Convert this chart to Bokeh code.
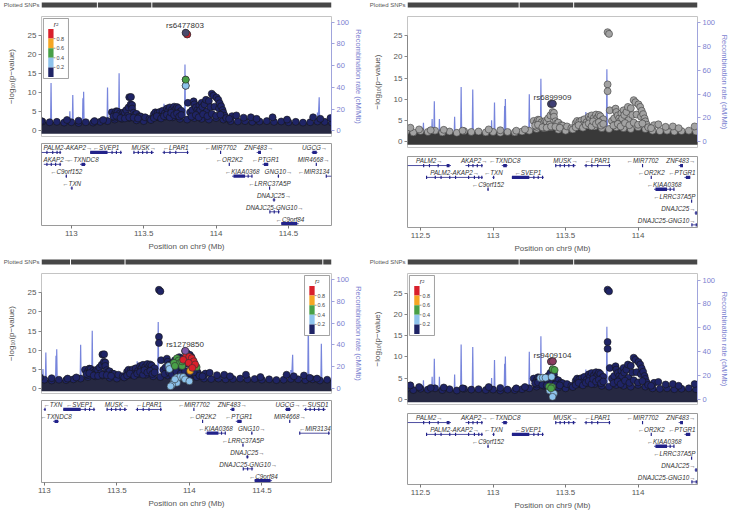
from bokeh.plotting import figure
from bokeh.models import Range1d, LinearAxis, FixedTicker
from bokeh.layouts import column, row
from bokeh.embed import file_html
from bokeh.resources import INLINE
from bokeh.core.properties import value

FONT = "Liberation Sans"

# ---------------- DATA ----------------
# shared association results (position Mb, -log10 p) above the dense band
snp_pos = [112.43, 112.49, 112.57, 112.66, 112.79, 112.97, 113.05, 113.16, 113.22,
           113.28, 113.30, 113.30, 113.31, 113.32, 113.33, 113.335, 113.35, 113.36, 113.36,
           113.37, 113.38, 113.39, 113.395, 113.400, 113.412, 113.41, 113.42, 113.42, 113.43,
           113.44, 113.45, 113.47, 113.48, 113.51, 113.54, 113.55,
           113.57, 113.58, 113.595, 113.60, 113.61, 113.62, 113.63, 113.645, 113.66, 113.67,
           113.68, 113.695, 113.70, 113.71, 113.72, 113.73, 113.74, 113.75, 113.76,
           113.79, 113.80, 113.79, 113.79,
           113.805, 113.82, 113.835, 113.845, 113.85, 113.86, 113.87, 113.875,
           113.885, 113.89, 113.90, 113.905, 113.92, 113.93, 113.935, 113.95, 113.96, 113.97,
           113.982, 113.99, 114.003, 114.015, 114.02, 114.025, 114.035, 114.045, 114.05, 114.06,
           114.11, 114.14, 114.19, 114.24, 114.28, 114.39, 114.49, 114.67, 114.72, 114.79,
           114.83, 114.88,
           113.29, 113.31, 113.34, 113.37, 113.40, 113.43, 113.46,
           113.57, 113.59, 113.62, 113.64, 113.66, 113.68, 113.69, 113.71, 113.73, 113.745, 113.76,
           113.83, 113.86, 113.88, 113.91, 113.94, 113.97, 114.00, 114.03, 114.07, 114.09]
snp_logp = [3.3, 2.9, 2.7, 2.8, 2.6, 2.9, 2.7, 2.6, 2.9,
            4.9, 3.5, 4.5, 5.2, 5.1, 3.9, 4.6, 4.4, 4.9, 3.7,
            4.7, 5.5, 4.0, 6.2, 8.9, 8.95, 7.0, 6.8, 5.9, 4.8,
            4.3, 4.5, 3.9, 3.8, 3.6, 3.2, 2.9,
            4.4, 4.9, 4.7, 3.8, 5.0, 4.1, 5.3, 4.6, 5.9, 5.4,
            6.2, 5.6, 4.5, 6.4, 5.7, 6.3, 6.0, 5.0, 5.3,
            25.8, 25.4, 13.5, 11.9,
            7.4, 4.9, 5.5, 7.8, 7.0, 6.2, 5.5, 4.8,
            6.7, 5.5, 7.4, 6.3, 7.0, 8.2, 5.1, 7.9, 6.3, 9.8,
            9.3, 6.4, 8.8, 8.2, 5.9, 7.3, 6.5, 5.5, 4.8, 4.0,
            3.9, 4.1, 3.5, 3.6, 3.2, 3.6, 3.0, 3.6, 3.2, 3.4,
            2.8, 2.6,
            3.8, 4.0, 3.4, 3.3, 3.6, 3.5, 3.3,
            3.4, 3.9, 3.3, 3.9, 4.3, 3.6, 4.8, 4.2, 4.6, 3.8, 4.2,
            3.8, 4.2, 3.6, 4.4, 3.9, 4.5, 4.0, 4.3, 3.4, 3.2]

# upper edge of the dense band of weak SNPs
band_pos = [112.40, 112.45, 112.50, 112.55, 112.60, 112.65, 112.70, 112.75, 112.80, 112.85,
            112.90, 112.95, 113.00, 113.05, 113.10, 113.15, 113.20, 113.25, 113.30, 113.35,
            113.40, 113.45, 113.50, 113.55, 113.60, 113.65, 113.70, 113.75, 113.80, 113.85,
            113.90, 113.95, 114.00, 114.05, 114.10, 114.15, 114.20, 114.25, 114.30, 114.35,
            114.40, 114.45, 114.50, 114.55, 114.60, 114.65, 114.70, 114.75, 114.80, 114.85,
            114.90, 114.95, 115.00]
band_top = [2.4, 2.2, 2.5, 2.3, 2.6, 2.2, 2.4, 2.1, 2.5, 2.3,
            2.4, 2.2, 2.3, 2.1, 2.3, 2.2, 2.4, 2.6, 3.0, 3.2,
            3.4, 2.8, 2.6, 3.0, 3.6, 3.8, 3.6, 3.2, 3.0, 3.4,
            3.2, 3.0, 3.4, 3.0, 2.6, 2.5, 2.6, 2.4, 2.5, 2.6,
            2.4, 2.5, 2.3, 2.4, 2.2, 2.3, 2.5, 2.4, 2.2, 2.4,
            2.1, 2.3, 2.2]

# recombination rate (cM/Mb)
recomb_pos = [112.400, 112.410, 112.414, 112.440, 112.470, 112.515, 112.520, 112.524, 112.575, 112.580,
              112.584, 112.591, 112.595, 112.599, 112.626, 112.630, 112.634, 112.680, 112.731, 112.735,
              112.739, 112.776, 112.780, 112.784, 112.820, 112.856, 112.860, 112.864, 112.920, 112.986,
              112.990, 112.994, 113.006, 113.010, 113.014, 113.050, 113.076, 113.080, 113.082, 113.085,
              113.089, 113.150, 113.200, 113.246, 113.250, 113.254, 113.276, 113.280, 113.284, 113.326,
              113.330, 113.334, 113.400, 113.460, 113.520, 113.580, 113.636, 113.640, 113.644, 113.700,
              113.781, 113.785, 113.789, 113.850, 113.950, 114.036, 114.040, 114.044, 114.100, 114.200,
              114.300, 114.400, 114.500, 114.600, 114.696, 114.700, 114.703, 114.712, 114.716, 114.780,
              114.816, 114.820, 114.824, 114.870, 114.906, 114.910, 114.914, 114.960, 115.000]
recomb_rate = [1.2, 13.0, 0.8, 2.0, 0.6, 0.9, 16.0, 1.0, 1.2, 19.0,
               1.0, 1.5, 34.0, 1.2, 1.0, 19.0, 0.9, 2.0, 1.0, 21.0,
               1.1, 1.0, 46.0, 1.2, 2.5, 1.0, 44.0, 1.0, 2.0, 1.0,
               18.0, 1.0, 1.2, 33.0, 1.0, 2.0, 1.0, 30.0, 5.0, 36.0,
               1.0, 2.5, 1.0, 1.2, 40.0, 1.0, 1.0, 17.0, 1.0, 1.2,
               53.0, 1.0, 2.0, 1.0, 2.0, 1.5, 1.0, 25.0, 1.0, 3.0,
               1.0, 61.0, 1.0, 2.0, 3.0, 1.0, 27.0, 1.0, 2.0, 1.0,
               2.5, 1.0, 2.0, 1.5, 1.0, 17.0, 2.0, 31.0, 1.0, 1.5,
               1.0, 63.0, 1.0, 2.0, 1.0, 41.0, 1.0, 1.5, 1.0]

snp_gaps = [113.18, 113.556, 114.92]

# genes
gene_name = ["PALM2", "AKAP2", "PALM2-AKAP2", "C9orf152", "TXN", "TXNDC8", "SVEP1", "MUSK",
             "LPAR1", "MIR7702", "OR2K2", "KIAA0368", "ZNF483", "PTGR1", "LRRC37A5P", "DNAJC25",
             "GNG10", "DNAJC25-GNG10", "C9orf84", "UGCG", "MIR4668", "MIR3134", "SUSD1"]
gene_start = [112.30, 112.81, 112.54, 112.96, 112.995, 113.06, 113.13, 113.43,
              113.63, 114.030, 114.090, 114.11, 114.28, 114.32, 114.365, 114.39,
              114.425, 114.37, 114.45, 114.66, 114.690, 114.76, 114.79]
gene_end = [112.71, 112.93, 112.93, 112.97, 113.010, 113.10, 113.35, 113.57,
            113.81, 114.032, 114.092, 114.25, 114.31, 114.36, 114.372, 114.41,
            114.435, 114.44, 114.57, 114.70, 114.695, 114.97, 114.94]
gene_strand = ["+", "+", "+", "-", "-", "-", "-", "+",
               "-", "-", "-", "-", "+", "-", "-", "+",
               "+", "+", "-", "+", "+", "-", "-"]
gene_exons = [
    [(112.52, 112.523), (112.56, 112.563), (112.62, 112.623), (112.68, 112.70)],
    [(112.83, 112.833), (112.86, 112.863), (112.89, 112.893), (112.92, 112.925)],
    [(112.54, 112.543), (112.60, 112.603), (112.64, 112.643), (112.70, 112.703), (112.74, 112.743),
     (112.83, 112.833), (112.87, 112.873), (112.90, 112.903), (112.92, 112.925)],
    [(112.964, 112.967)],
    [(113.002, 113.006)],
    [(113.07, 113.095)],
    [(113.13, 113.25), (113.28, 113.283), (113.31, 113.313), (113.34, 113.343)],
    [(113.43, 113.435), (113.46, 113.465), (113.49, 113.495), (113.52, 113.525), (113.55, 113.56)],
    [(113.64, 113.643), (113.68, 113.683), (113.72, 113.723), (113.80, 113.805)],
    [(114.030, 114.032)],
    [(114.090, 114.092)],
    [(114.12, 114.20), (114.22, 114.223), (114.245, 114.25)],
    [(114.29, 114.31)],
    [(114.33, 114.36)],
    [(114.368, 114.371)],
    [(114.395, 114.405)],
    [(114.428, 114.433)],
    [(114.37, 114.373), (114.40, 114.403), (114.43, 114.433)],
    [(114.45, 114.56)],
    [(114.665, 114.695)],
    [(114.690, 114.694)],
    [(114.76, 114.762), (114.96, 114.962)],
    [(114.80, 114.805), (114.83, 114.835), (114.86, 114.865), (114.89, 114.895), (114.92, 114.93)],
]

# gene track rows of each panel
rows_p1 = {"PALM2-AKAP2": 0, "SVEP1": 0, "MUSK": 0, "LPAR1": 0, "MIR7702": 0, "ZNF483": 0, "UGCG": 0,
           "AKAP2": 1, "TXNDC8": 1, "OR2K2": 1, "PTGR1": 1, "MIR4668": 1,
           "C9orf152": 2, "KIAA0368": 2, "GNG10": 2, "MIR3134": 2,
           "TXN": 3, "LRRC37A5P": 3, "DNAJC25": 4, "DNAJC25-GNG10": 5, "C9orf84": 6}
rows_p2 = {"PALM2": 0, "AKAP2": 0, "TXNDC8": 0, "MUSK": 0, "LPAR1": 0, "MIR7702": 0, "ZNF483": 0,
           "PALM2-AKAP2": 1, "TXN": 1, "SVEP1": 1, "OR2K2": 1, "PTGR1": 1,
           "C9orf152": 2, "KIAA0368": 2, "LRRC37A5P": 3, "DNAJC25": 4, "DNAJC25-GNG10": 5}
rows_p3 = {"TXN": 0, "SVEP1": 0, "MUSK": 0, "LPAR1": 0, "MIR7702": 0, "ZNF483": 0, "UGCG": 0, "SUSD1": 0,
           "TXNDC8": 1, "OR2K2": 1, "PTGR1": 1, "MIR4668": 1,
           "KIAA0368": 2, "GNG10": 2, "MIR3134": 2,
           "LRRC37A5P": 3, "DNAJC25": 4, "DNAJC25-GNG10": 5, "C9orf84": 6}

# LD-coloured SNPs per panel (position, -log10 p, r2)
p1_ld_pos = [113.80, 113.79, 113.79]
p1_ld_logp = [25.4, 13.5, 11.9]
p1_ld_r2 = [0.9, 0.5, 0.3]
p3_ld_pos = [113.979, 113.999, 114.016, 113.957, 114.03, 113.995, 114.04, 114.02,
             114.005, 114.035,
             113.914, 113.925, 113.893, 113.936, 113.90, 113.95, 114.05, 113.95,
             113.857, 113.862, 113.914, 113.936, 113.957, 113.893, 113.914, 113.88, 113.87,
             113.97, 114.0, 113.90]
p3_ld_logp = [8.6, 8.3, 7.9, 7.5, 7.1, 6.7, 6.3, 5.4,
              4.6, 5.9,
              7.9, 7.3, 6.7, 6.7, 5.9, 5.9, 5.6, 7.1,
              5.9, 5.1, 2.9, 3.0, 3.0, 1.9, 1.5, 1.0, 0.6,
              2.4, 1.9, 2.4]
p3_ld_r2 = [0.9, 0.9, 0.9, 0.9, 0.9, 0.9, 0.9, 0.9,
            0.7, 0.7,
            0.5, 0.5, 0.5, 0.5, 0.5, 0.5, 0.5, 0.5,
            0.3, 0.3, 0.3, 0.3, 0.3, 0.3, 0.3, 0.3, 0.3,
            0.3, 0.3, 0.3]
p4_ld_pos = [113.412, 113.425, 113.386, 113.408, 113.40,
             113.326, 113.343, 113.362, 113.404, 113.39, 113.42, 113.41]
p4_ld_logp = [7.1, 6.9, 3.05, 2.9, 2.6,
              5.05, 5.1, 5.1, 5.3, 2.1, 1.4, 0.6]
p4_ld_r2 = [0.5, 0.5, 0.5, 0.5, 0.5,
            0.3, 0.3, 0.3, 0.3, 0.3, 0.3, 0.3]

# index SNPs
lead_names = ["rs6477803", "rs6899909", "rs1279850", "rs9409104"]
lead_pos = [[113.79], [113.400, 113.412], [113.972], [113.400, 113.412]]
lead_logp = [[25.8], [8.9, 8.95], [9.85], [8.9, 8.95]]
lead_label_pos = [113.785, 113.41, 113.97, 113.41]
lead_label_logp = [27.8, 10.4, 11.6, 10.3]

ticks_a = [113, 113.5, 114, 114.5]
tick_labels_a = ["113", "113.5", "114", "114.5"]
ticks_b = [112.5, 113, 113.5, 114]
tick_labels_b = ["112.5", "113", "113.5", "114"]

ld_breaks = [0.8, 0.6, 0.4, 0.2]
ld_labels = ["0.8", "0.6", "0.4", "0.2"]

# ---------------- STYLE ----------------
LD_COLORS = ["#d9202b", "#f5a623", "#48a047", "#8ec3ec", "#1f2466"]
NAVY = "#1f2466"
W = 366
BL, BR = 36, 29
FW = W - BL - BR

KIND_A = dict(main_h=126, mbt=3, mbb=3, gene_h=118, gbt=4, gbb=32, gH=85, rsp=12.3)
KIND_B = dict(main_h=138, mbt=3, mbb=4, gene_h=106, gbt=5, gbb=30, gH=73, rsp=12.2)


def ld_color(r2):
    for b, c in zip(ld_breaks, LD_COLORS):
        if r2 >= b:
            return c
    return LD_COLORS[-1]


def style_fig(p):
    p.xgrid.grid_line_color = None
    p.ygrid.grid_line_color = None
    p.background_fill_color = "white"
    p.border_fill_color = "white"


def draw_legend(p, xr, yr, fh, side):
    sx = (xr[1] - xr[0]) / FW
    sy = (yr[1] - yr[0]) / fh
    bw, bh = 26, 60
    left = xr[0] + 2 * sx if side == "left" else xr[1] - (2 + bw) * sx
    top = yr[1] - 2 * sy
    p.quad(left=[left], right=[left + bw * sx], top=[top], bottom=[top - bh * sy],
           fill_color="white", line_color="#8a8a8a", line_width=0.8)
    p.text(x=[left + 13 * sx], y=[top - 5.5 * sy], text=["r²"], text_font=value(FONT),
           text_font_size=value("6.5px"), text_font_style="italic", text_color="#333",
           text_align="center", text_baseline="middle")
    bx0, bx1 = left + 5 * sx, left + 10.5 * sx
    t0, step = 10.5, 9.6
    lefts, rights, tops, bots = [], [], [], []
    for i, c in enumerate(LD_COLORS):
        lefts.append(bx0)
        rights.append(bx1)
        tops.append(top - (t0 + step * i) * sy)
        bots.append(top - (t0 + step * (i + 1)) * sy)
    p.quad(left=lefts, right=rights, top=tops, bottom=bots, fill_color=LD_COLORS, line_color=None)
    ys = [top - (t0 + step * (i + 1)) * sy for i in range(len(ld_labels))]
    p.segment(x0=[bx1] * len(ys), y0=ys, x1=[bx1 + 2 * sx] * len(ys), y1=ys,
              line_color="#555", line_width=0.6)
    p.text(x=[bx1 + 3 * sx] * len(ys), y=ys, text=ld_labels, text_font=value(FONT),
           text_font_size=value("5.5px"), text_color="#444", text_baseline="middle")


def draw_genes(p, xr, rows, rsp):
    sx = (xr[1] - xr[0]) / FW
    lx0, lx1, ly, ex_l, ex_r, ex_t, ex_b = [], [], [], [], [], [], []
    tx, ty, tt, ta = [], [], [], []
    for name, r in rows.items():
        i = gene_name.index(name)
        s, e = gene_start[i], gene_end[i]
        vs, ve = max(s, xr[0]), min(e, xr[1])
        if ve < vs:
            continue
        yl = -(9.3 + rsp * r)
        lx0.append(vs); lx1.append(ve); ly.append(yl)
        for a, b in gene_exons[i]:
            a2, b2 = max(a, xr[0]), min(b, xr[1])
            if b2 < a2:
                continue
            if b2 - a2 < 1.2 * sx:
                m = (a2 + b2) / 2
                a2, b2 = m - 0.6 * sx, m + 0.6 * sx
            ex_l.append(a2); ex_r.append(b2); ex_t.append(yl + 1.7); ex_b.append(yl - 1.7)
        txt = name + "→" if gene_strand[i] == "+" else "←" + name
        w = len(txt) * 3.7 * sx
        cx = (vs + ve) / 2
        if cx - w / 2 < xr[0] + 2 * sx:
            tx.append(xr[0] + 2 * sx); ta.append("left")
        elif cx + w / 2 > xr[1] - 2 * sx:
            tx.append(xr[1] - 2 * sx); ta.append("right")
        else:
            tx.append(cx); ta.append("center")
        ty.append(-(4.5 + rsp * r)); tt.append(txt)
    p.segment(x0=lx0, y0=ly, x1=lx1, y1=ly, line_color="#22228a", line_width=0.8)
    p.quad(left=ex_l, right=ex_r, top=ex_t, bottom=ex_b, fill_color="#22228a", line_color=None)
    p.text(x=tx, y=ty, text=tt, text_align=ta, text_font=value(FONT), text_font_size=value("6.3px"),
           text_font_style="italic", text_color="#333", text_baseline="middle")


def build_panel(cfg):
    K = cfg["kind"]
    xr = cfg["xr"]
    yr = cfg["yr"]
    x_range = Range1d(*xr)

    # plotted SNPs rug; its title is drawn as the single tick label of a bare left axis
    bar = figure(width=W, height=13, x_range=x_range, y_range=Range1d(0, 13),
                 min_border_left=BL, min_border_right=BR, min_border_top=0, min_border_bottom=0,
                 x_axis_location=None, y_axis_location="left", toolbar_location=None,
                 output_backend="svg", outline_line_color=None)
    style_fig(bar)
    ba = bar.yaxis[0]
    ba.ticker = FixedTicker(ticks=[8.5])
    ba.major_label_overrides = {8.5: "Plotted SNPs"}
    ba.major_label_text_font = FONT
    ba.major_label_text_font_size = "6px"
    ba.major_label_text_color = "#555"
    ba.major_label_standoff = 2
    ba.major_tick_out = 0
    ba.major_tick_in = 0
    ba.major_tick_line_color = None
    ba.minor_tick_line_color = None
    ba.axis_line_color = None
    bar.quad(left=[max(band_pos[0], xr[0])], right=[min(band_pos[-1], xr[1])], bottom=[6], top=[11],
             fill_color="#474747", line_color=None)
    gx = [g for g in snp_gaps if xr[0] < g < xr[1]]
    bar.segment(x0=gx, y0=[5.5] * len(gx), x1=gx, y1=[11.5] * len(gx), line_color="white", line_width=1)

    # association plot
    fh = K["main_h"] - K["mbt"] - K["mbb"]
    p = figure(width=W, height=K["main_h"], x_range=x_range, y_range=Range1d(*yr),
               min_border_left=BL, min_border_right=BR, min_border_top=K["mbt"],
               min_border_bottom=K["mbb"], x_axis_location=None, y_axis_location="left",
               toolbar_location=None, output_backend="svg", outline_line_color="#c4c4c4")
    style_fig(p)
    p.extra_y_ranges = {"rec": Range1d(*cfg["rr"])}
    ya = p.yaxis[0]
    ya.ticker = FixedTicker(ticks=[0, 5, 10, 15, 20, 25])
    ya.bounds = (0, 25)
    ya.axis_label = "−log₁₀(p−value)"
    ya.axis_label_text_font = FONT
    ya.axis_label_text_font_size = "8px"
    ya.axis_label_text_font_style = "normal"
    ya.axis_label_text_color = "#555"
    ya.axis_label_standoff = 9
    ya.major_label_text_font = FONT
    ya.major_label_text_font_size = "8px"
    ya.major_label_text_color = "#555"
    ya.major_label_standoff = 2
    ya.major_tick_out = 3
    ya.major_tick_in = 0
    ya.minor_tick_line_color = None
    ya.axis_line_color = "#888"
    ya.major_tick_line_color = "#888"

    ra = LinearAxis(y_range_name="rec", ticker=FixedTicker(ticks=[0, 20, 40, 60, 80, 100]),
                    bounds=(0, 100), axis_label="Recombination rate (cM/Mb)")
    ra.axis_label_text_font = FONT
    ra.axis_label_text_font_size = "7.5px"
    ra.axis_label_text_font_style = "normal"
    ra.axis_label_text_color = "#7b7fd0"
    ra.axis_label_standoff = 2
    ra.major_label_text_font = FONT
    ra.major_label_text_font_size = "7.5px"
    ra.major_label_text_color = "#7b7fd0"
    ra.major_label_standoff = 2
    ra.major_tick_out = 3
    ra.major_tick_in = 0
    ra.minor_tick_line_color = None
    ra.axis_line_color = "#a0a4dc"
    ra.major_tick_line_color = "#a0a4dc"
    p.add_layout(ra, "right")

    # recombination rate
    p.line(recomb_pos, recomb_rate, y_range_name="rec", line_color="#4a5cd0", line_width=1.2,
           line_alpha=0.75)

    if cfg["scheme"] == "grey":
        fill, edge, band_fill = "#a2a2a2", "#3c3c3c", "#393939"
    else:
        fill, edge, band_fill = NAVY, "#161616", "#262842"
    p.varea(x=band_pos, y1=[-0.7] * len(band_pos), y2=band_top, fill_color=band_fill)
    p.scatter(band_pos, band_top, size=7, fill_color=fill, line_color=edge, line_width=0.6)
    p.scatter(snp_pos, snp_logp, size=7, fill_color=fill, line_color=edge, line_width=0.6)

    if cfg["ld"] is not None:
        lp, ll, lr = cfg["ld"]
        order = sorted(range(len(lr)), key=lambda k: lr[k])
        p.scatter([lp[k] for k in order], [ll[k] for k in order], size=7,
                  fill_color=[ld_color(lr[k]) for k in order], line_color="#303030", line_width=0.6)
    i = cfg["lead"]
    p.scatter(lead_pos[i], lead_logp[i], size=7, fill_color=cfg["lead_color"], line_color="#303030",
              line_width=0.6)
    p.text(x=[lead_label_pos[i]], y=[lead_label_logp[i]], text=[lead_names[i]], text_font=value(FONT),
           text_font_size=value("8px"), text_color="#333", text_align="center", text_baseline="middle")

    if cfg["legend"]:
        draw_legend(p, xr, yr, fh, cfg["legend"])

    # gene track
    g = figure(width=W, height=K["gene_h"], x_range=x_range, y_range=Range1d(-K["gH"], 0),
               min_border_left=BL, min_border_right=BR, min_border_top=K["gbt"],
               min_border_bottom=K["gbb"], y_axis_location=None, x_axis_location="below",
               toolbar_location=None, output_backend="svg", outline_line_color="#9a9a9a")
    style_fig(g)
    xa = g.xaxis[0]
    xa.ticker = FixedTicker(ticks=cfg["ticks"])
    xa.major_label_overrides = {t: s for t, s in zip(cfg["ticks"], cfg["tick_labels"])}
    xa.axis_label = "Position on chr9 (Mb)"
    xa.axis_label_text_font = FONT
    xa.axis_label_text_font_size = "8px"
    xa.axis_label_text_font_style = "normal"
    xa.axis_label_text_color = "#555"
    xa.axis_label_standoff = 3
    xa.major_label_text_font = FONT
    xa.major_label_text_font_size = "8px"
    xa.major_label_text_color = "#555"
    xa.major_label_standoff = 2
    xa.major_tick_out = 3
    xa.major_tick_in = 0
    xa.minor_tick_line_color = None
    xa.axis_line_color = None
    xa.major_tick_line_color = "#777"
    draw_genes(g, xr, cfg["rows"], K["rsp"])

    return column(bar, p, g, spacing=0)


panels = [
    dict(kind=KIND_A, xr=(112.794, 114.797), yr=(-1.45, 30.1), rr=(-5.06, 105.1), ticks=ticks_a,
         tick_labels=tick_labels_a, rows=rows_p1, ld=(p1_ld_pos, p1_ld_logp, p1_ld_r2), lead=0,
         lead_color="#4a4a6c", legend="left", scheme="navy"),
    dict(kind=KIND_B, xr=(112.41, 114.41), yr=(-1.36, 29.5), rr=(-4.9, 105.4), ticks=ticks_b,
         tick_labels=tick_labels_b, rows=rows_p2, ld=None, lead=1,
         lead_color="#3f3f75", legend=None, scheme="grey"),
    dict(kind=KIND_A, xr=(112.98, 114.98), yr=(-1.3, 30.05), rr=(-4.5, 105.3), ticks=ticks_a,
         tick_labels=tick_labels_a, rows=rows_p3, ld=(p3_ld_pos, p3_ld_logp, p3_ld_r2), lead=2,
         lead_color="#7e57a6", legend="right", scheme="navy"),
    dict(kind=KIND_B, xr=(112.41, 114.41), yr=(-1.2, 29.6), rr=(-4.2, 105.5), ticks=ticks_b,
         tick_labels=tick_labels_b, rows=rows_p2, ld=(p4_ld_pos, p4_ld_logp, p4_ld_r2), lead=3,
         lead_color="#8b3b60", legend="left", scheme="navy"),
]

cols = [build_panel(c) for c in panels]
layout = column(row(cols[0], cols[1], spacing=0), row(cols[2], cols[3], spacing=0), spacing=0)

open("out.html", "w").write(file_html(layout, INLINE))
